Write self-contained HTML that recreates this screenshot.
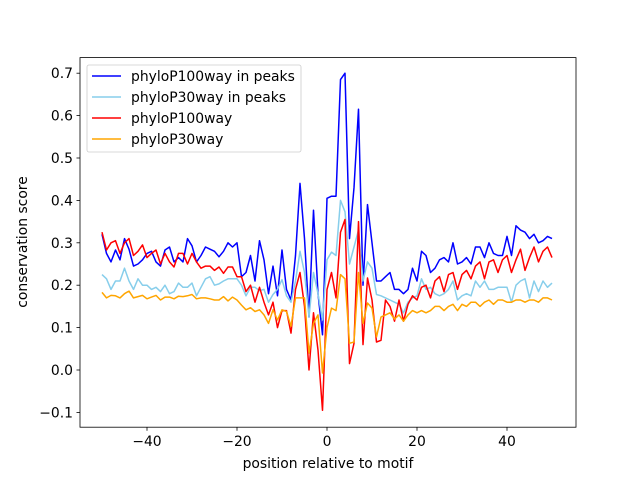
<!DOCTYPE html>
<html><head><meta charset="utf-8"><style>
body{margin:0;background:#fff;}
svg text{font-family:"DejaVu Sans","Liberation Sans",sans-serif;fill:#000;}
</style></head><body>
<svg id="chart" width="640" height="480" xmlns="http://www.w3.org/2000/svg">
<rect width="640" height="480" fill="#fff"/>
<g id="plot"></g>
<rect x="80" y="57.6" width="496" height="369.6" fill="none" stroke="#000" stroke-width="0.8"/>
<g id="axes"></g>
<text x="328" y="468" font-size="13.9" text-anchor="middle">position relative to motif</text>
<text x="0" y="0" font-size="13.9" text-anchor="middle" transform="translate(27,242) rotate(-90)">conservation score</text>
<g>
<rect x="87" y="65" width="214" height="87" rx="2" fill="#fff" fill-opacity="0.8" stroke="#ccc" stroke-width="0.8"/>
<line x1="92" y1="76" x2="121" y2="76" stroke="#0000ff" stroke-width="1.5"/>
<text x="131" y="81" font-size="13.9">phyloP100way in peaks</text>
<line x1="92" y1="97" x2="121" y2="97" stroke="#87ceeb" stroke-width="1.5"/>
<text x="131" y="102" font-size="13.9">phyloP30way in peaks</text>
<line x1="92" y1="118" x2="121" y2="118" stroke="#ff0000" stroke-width="1.5"/>
<text x="131" y="123" font-size="13.9">phyloP100way</text>
<line x1="92" y1="139" x2="121" y2="139" stroke="#ffa500" stroke-width="1.5"/>
<text x="131" y="144" font-size="13.9">phyloP30way</text>
</g>
</svg>
<script>
const xTicks = [-40, -20, 0, 20, 40];
const yTicks = [-0.1, 0.0, 0.1, 0.2, 0.3, 0.4, 0.5, 0.6, 0.7];
const yTickLabels = ["\u22120.1", "0.0", "0.1", "0.2", "0.3", "0.4", "0.5", "0.6", "0.7"];
const xTickLabels = ["\u221240", "\u221220", "0", "20", "40"];
const positions = [];
for (let i = -50; i <= 50; i++) positions.push(i);
const blue = [0.32,0.275,0.255,0.283,0.26,0.31,0.285,0.245,0.25,0.26,0.275,0.28,0.255,0.245,0.283,0.29,0.255,0.265,0.255,0.31,0.293,0.255,0.27,0.29,0.285,0.28,0.267,0.28,0.30,0.29,0.30,0.22,0.23,0.27,0.21,0.305,0.26,0.18,0.245,0.175,0.283,0.19,0.165,0.27,0.44,0.31,0.125,0.377,0.18,0.083,0.405,0.41,0.41,0.685,0.70,0.31,0.43,0.615,0.20,0.39,0.30,0.21,0.21,0.22,0.23,0.19,0.19,0.18,0.19,0.24,0.21,0.28,0.27,0.23,0.24,0.26,0.265,0.255,0.30,0.25,0.255,0.265,0.25,0.29,0.29,0.265,0.30,0.275,0.27,0.27,0.315,0.27,0.34,0.33,0.325,0.31,0.32,0.30,0.305,0.315,0.31];
const lightBlue = [0.225,0.215,0.19,0.21,0.21,0.24,0.21,0.19,0.215,0.2,0.2,0.19,0.195,0.185,0.2,0.18,0.185,0.205,0.195,0.195,0.205,0.175,0.195,0.215,0.22,0.2,0.203,0.21,0.215,0.215,0.215,0.2,0.175,0.195,0.195,0.187,0.19,0.16,0.178,0.19,0.213,0.175,0.16,0.21,0.28,0.23,0.125,0.23,0.18,0.118,0.26,0.278,0.27,0.40,0.373,0.25,0.29,0.33,0.21,0.255,0.24,0.178,0.175,0.17,0.165,0.16,0.155,0.135,0.16,0.17,0.175,0.215,0.19,0.195,0.18,0.175,0.18,0.19,0.21,0.165,0.175,0.18,0.175,0.21,0.195,0.21,0.19,0.19,0.195,0.195,0.195,0.16,0.2,0.21,0.215,0.17,0.21,0.185,0.21,0.195,0.205];
const red = [0.325,0.283,0.30,0.305,0.275,0.30,0.31,0.27,0.28,0.295,0.265,0.275,0.283,0.25,0.275,0.255,0.243,0.275,0.275,0.25,0.275,0.255,0.24,0.245,0.245,0.235,0.243,0.228,0.243,0.243,0.22,0.22,0.185,0.2,0.16,0.195,0.16,0.13,0.16,0.10,0.14,0.14,0.087,0.19,0.23,0.15,0.0,0.135,0.047,-0.095,0.19,0.23,0.17,0.325,0.355,0.015,0.063,0.35,0.06,0.217,0.165,0.066,0.07,0.165,0.15,0.115,0.165,0.115,0.155,0.175,0.165,0.195,0.2,0.17,0.21,0.22,0.185,0.225,0.23,0.19,0.225,0.235,0.215,0.245,0.255,0.215,0.255,0.26,0.23,0.26,0.27,0.23,0.26,0.285,0.235,0.265,0.29,0.255,0.28,0.29,0.265];
const orange = [0.183,0.17,0.176,0.175,0.17,0.18,0.186,0.17,0.173,0.176,0.168,0.172,0.176,0.165,0.172,0.172,0.168,0.174,0.173,0.175,0.178,0.168,0.17,0.17,0.168,0.165,0.165,0.173,0.163,0.172,0.165,0.153,0.142,0.147,0.138,0.142,0.13,0.11,0.142,0.118,0.142,0.138,0.103,0.17,0.17,0.17,0.04,0.11,0.13,-0.007,0.1,0.146,0.14,0.225,0.215,0.063,0.066,0.23,0.11,0.158,0.146,0.078,0.125,0.13,0.135,0.12,0.13,0.115,0.13,0.14,0.135,0.14,0.135,0.14,0.15,0.15,0.14,0.15,0.155,0.14,0.155,0.15,0.16,0.16,0.15,0.16,0.165,0.155,0.165,0.165,0.16,0.16,0.165,0.165,0.16,0.165,0.165,0.16,0.17,0.17,0.165];

const NS = "http://www.w3.org/2000/svg";
function xScale(v){ return 327 + v * 4.5; }
function yScale(v){ return 370 - v * 424; }

const plot = document.getElementById('plot');
const axes = document.getElementById('axes');
function series(vals, color, name){
  const p = document.createElementNS(NS, 'polyline');
  p.setAttribute('points', vals.map((v,i)=>xScale(positions[i]).toFixed(1)+','+yScale(v).toFixed(1)).join(' '));
  p.setAttribute('fill','none');
  p.setAttribute('stroke',color);
  p.setAttribute('stroke-width','1.5');
  p.setAttribute('stroke-linejoin','round');
  
  
  plot.appendChild(p);
}
series(blue, '#0000ff', 'line-phylop100way-peaks');
series(lightBlue, '#87ceeb', 'line-phylop30way-peaks');
series(red, '#ff0000', 'line-phylop100way');
series(orange, '#ffa500', 'line-phylop30way');

xTicks.forEach((t,i)=>{
  const x = xScale(t);
  const l = document.createElementNS(NS,'line');
  l.setAttribute('x1',x); l.setAttribute('x2',x);
  l.setAttribute('y1',427.2); l.setAttribute('y2',430.7);
  l.setAttribute('stroke','#000'); l.setAttribute('stroke-width','0.8');
  
  
  axes.appendChild(l);
  const tx = document.createElementNS(NS,'text');
  tx.setAttribute('x',x); tx.setAttribute('y',446);
  tx.setAttribute('font-size','13.9'); tx.setAttribute('text-anchor','middle');
  tx.textContent = xTickLabels[i];
  
  
  axes.appendChild(tx);
});
yTicks.forEach((t,i)=>{
  const y = yScale(t);
  const l = document.createElementNS(NS,'line');
  l.setAttribute('x1',76.5); l.setAttribute('x2',80);
  l.setAttribute('y1',y); l.setAttribute('y2',y);
  l.setAttribute('stroke','#000'); l.setAttribute('stroke-width','0.8');
  
  
  axes.appendChild(l);
  const tx = document.createElementNS(NS,'text');
  tx.setAttribute('x',73); tx.setAttribute('y',y+5);
  tx.setAttribute('font-size','13.9'); tx.setAttribute('text-anchor','end');
  tx.textContent = yTickLabels[i];
  
  
  axes.appendChild(tx);
});
</script>
</body></html>
